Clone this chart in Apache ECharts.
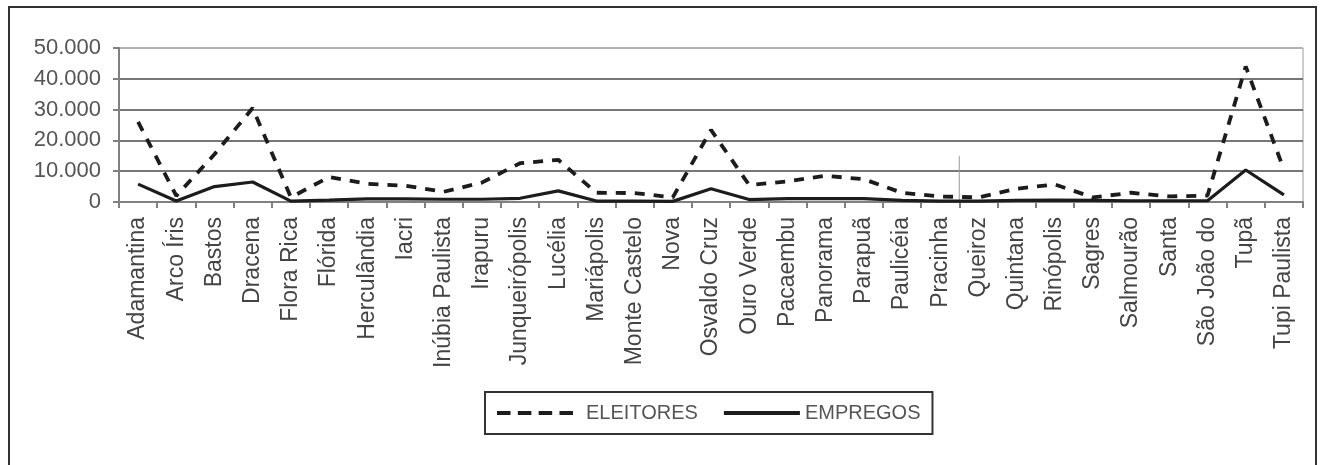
<!DOCTYPE html>
<html>
<head>
<meta charset="utf-8">
<script src="https://cdn.jsdelivr.net/npm/echarts@6/dist/echarts.min.js"></script>
<style>
  html, body { margin: 0; padding: 0; background: #fff; }
  #chart { width: 1322px; height: 465px; }
</style>
</head>
<body>
<div id="chart"></div>
<script>
// Municípios da Nova Alta Paulista
const municipios = [
  "Adamantina", "Arco Íris", "Bastos", "Dracena", "Flora Rica", "Flórida",
  "Herculândia", "Iacri", "Inúbia Paulista", "Irapuru", "Junqueirópolis",
  "Lucélia", "Mariápolis", "Monte Castelo", "Nova", "Osvaldo Cruz",
  "Ouro Verde", "Pacaembu", "Panorama", "Parapuã", "Paulicéia", "Pracinha",
  "Queiroz", "Quintana", "Rinópolis", "Sagres", "Salmourão", "Santa",
  "São João do", "Tupã", "Tupi Paulista"
];

const eleitores = [
  26000, 2000, 15500, 30500, 1500, 8100,
  5900, 5300, 3300, 6300, 12600,
  13700, 3000, 2900, 1500, 23400,
  5500, 6700, 8500, 7400, 3000, 1800,
  1500, 4300, 5700, 1500, 3000, 1800,
  2100, 44000, 10500
];

const empregos = [
  5800, 300, 5000, 6500, 300, 600,
  1000, 1000, 900, 900, 1200,
  3600, 300, 300, 200, 4300,
  800, 1100, 1100, 1100, 500, 300,
  300, 500, 600, 500, 400, 400,
  400, 10400, 2300
];

const yTicks = [0, 10000, 20000, 30000, 40000, 50000];

const FONT = "'Liberation Sans', Arial, sans-serif";
const INK = "#1c1c1c";

// legend keys: four short bars for the dashed series, one long bar for the solid one
const ICON_DASHED = "path://M0,0h13v4h-13z M20,0h13v4h-13z M40,0h13v4h-13z M60,0h13v4h-13z";
const ICON_SOLID = "path://M0,0h76v4h-76z";

function milhar(v) {
  return v === 0 ? "0" : String(v).replace(/\B(?=(\d{3})+(?!\d))/g, ".");
}

const chart = echarts.init(document.getElementById("chart"), null, { renderer: "canvas" });

chart.setOption({
  animation: false,
  backgroundColor: "#fff",
  grid: {
    left: 119, right: 19, top: 48, bottom: 263,
    show: true, borderColor: "#9a9a9a", borderWidth: 1
  },
  legend: {
    left: 485, top: 392,
    padding: [11, 12],
    itemGap: 26,
    itemWidth: 76,
    itemHeight: 5,
    borderColor: "#333", borderWidth: 2,
    formatter: function (name) {
      return name === "ELEITORES" ? "{pad|" + name + "}" : "{txt|" + name + "}";
    },
    textStyle: {
      fontFamily: FONT, fontSize: 20, color: "#555",
      rich: {
        pad: { fontFamily: FONT, fontSize: 20, color: "#555", padding: [0, 0, 0, 8] },
        txt: { fontFamily: FONT, fontSize: 20, color: "#555" }
      }
    },
    data: [
      { name: "ELEITORES", icon: ICON_DASHED },
      { name: "EMPREGOS", icon: ICON_SOLID }
    ]
  },
  xAxis: {
    type: "category",
    data: municipios,
    boundaryGap: true,
    axisLine: { show: true, lineStyle: { color: "#808080", width: 2 } },
    axisTick: { show: true, length: 6, lineStyle: { color: "#808080", width: 2 } },
    axisLabel: {
      interval: 0, rotate: 90, margin: 15,
      fontFamily: FONT, fontSize: 23, color: "#444"
    },
    splitLine: { show: false }
  },
  yAxis: {
    type: "value",
    min: yTicks[0], max: yTicks[yTicks.length - 1], interval: yTicks[1] - yTicks[0],
    axisLine: { show: true, lineStyle: { color: "#808080", width: 2 } },
    axisTick: { show: true, length: 6, lineStyle: { color: "#808080", width: 2 } },
    axisLabel: {
      margin: 18, fontFamily: FONT, fontSize: 22, color: "#555",
      formatter: milhar
    },
    splitLine: {
      show: true,
      lineStyle: { color: ["#4a4a4a", "#4a4a4a", "#4a4a4a", "#4a4a4a", "#4a4a4a", "#a8a8a8"], width: 1.6 }
    }
  },
  series: [
    {
      name: "ELEITORES",
      type: "line",
      data: eleitores,
      symbol: "none",
      lineStyle: { color: INK, width: 3.8, type: [10, 9] },
      itemStyle: { color: INK },
      z: 3
    },
    {
      name: "EMPREGOS",
      type: "line",
      data: empregos,
      symbol: "none",
      lineStyle: { color: INK, width: 3.2, type: "solid" },
      itemStyle: { color: INK },
      z: 4
    }
  ]
});

// thin divider between Pracinha and Queiroz, plus the outer frame
const a = chart.convertToPixel({ xAxisIndex: 0, yAxisIndex: 0 }, ["Pracinha", 15000]);
const b = chart.convertToPixel({ xAxisIndex: 0, yAxisIndex: 0 }, ["Queiroz", 0]);
const xm = (a[0] + b[0]) / 2;
chart.setOption({
  graphic: [
    {
      type: "line", silent: true, z: 1,
      shape: { x1: xm, y1: a[1], x2: xm, y2: b[1] },
      style: { stroke: "#9a9a9a", lineWidth: 1 }
    },
    {
      type: "rect", silent: true,
      shape: { x: 9, y: 7, width: 1307, height: 480 },
      style: { fill: "none", stroke: "#333", lineWidth: 2 }
    }
  ]
});
</script>
</body>
</html>
